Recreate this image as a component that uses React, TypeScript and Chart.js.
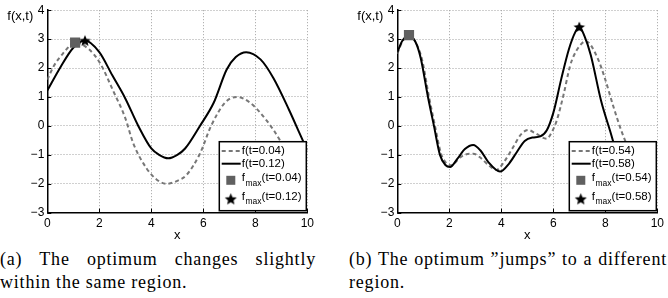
import React, { useEffect, useRef } from "react";
import { Chart, registerables } from "chart.js";

Chart.register(...registerables);

// Axis ticks shared by both panels
const xTicks = [0, 2, 4, 6, 8, 10];
const yTicks = [-3, -2, -1, 0, 1, 2, 3, 4];

// Panel (a): f(x, t=0.04) dashed, f(x, t=0.12) solid
const aDashX = [0, 0.25, 0.6, 1.07, 1.6, 2.03, 2.54, 3.0, 3.31, 3.82, 4.2, 4.59, 5.0, 5.36, 5.87, 6.3, 6.83, 7.3, 7.8, 8.44, 8.95, 9.5, 10];
const aDashY = [1.6, 2.07, 2.5, 2.88, 2.65, 2.17, 1.2, 0.27, -0.61, -1.47, -1.85, -2.0, -1.9, -1.69, -0.96, 0.0, 0.8, 1.0, 0.8, 0.18, -0.5, -1.5, -2.4];
const aSolidX = [0, 0.5, 1.0, 1.45, 2.0, 2.5, 3.0, 3.5, 4.0, 4.3, 4.65, 5.0, 5.3, 5.87, 6.4, 6.9, 7.25, 7.65, 8.2, 8.7, 9.3, 9.7, 10];
const aSolidY = [1.22, 2.02, 2.7, 2.95, 2.55, 1.75, 0.95, 0.0, -0.78, -1.0, -1.12, -1.0, -0.78, 0.0, 0.8, 1.95, 2.38, 2.55, 2.3, 1.65, 0.55, -0.25, -0.85];
const aMaxSquare = [1.07, 2.88];
const aMaxStar = [1.45, 2.95];
const aTimes = ["0.04", "0.12"];

// Panel (b): f(x, t=0.54) dashed, f(x, t=0.58) solid
const bDashX = [0, 0.2, 0.45, 0.7, 0.95, 1.22, 1.45, 1.68, 1.9, 2.09, 2.4, 2.7, 2.92, 3.2, 3.5, 3.82, 4.1, 4.46, 4.75, 5.04, 5.3, 5.74, 5.95, 6.13, 6.4, 6.64, 6.8, 7.0, 7.25, 7.7, 8.0, 8.3, 8.63, 9.0, 9.5, 10];
const bDashY = [2.5, 2.92, 3.14, 2.9, 2.3, 1.0, 0.0, -0.95, -1.3, -1.36, -1.1, -0.97, -0.96, -1.1, -1.35, -1.52, -1.25, -0.73, -0.3, -0.14, -0.25, -0.44, -0.2, 0.18, 1.1, 2.06, 2.45, 2.75, 2.93, 2.35, 1.6, 0.7, -0.2, -1.0, -1.8, -2.2];
const bSolidX = [0, 0.2, 0.45, 0.7, 0.9, 1.18, 1.41, 1.64, 1.85, 2.03, 2.3, 2.6, 2.92, 3.2, 3.5, 3.95, 4.3, 4.6, 4.9, 5.2, 5.5, 5.75, 6.0, 6.3, 6.6, 6.85, 7.0, 7.2, 7.44, 7.84, 8.18, 8.5, 9.0, 9.5, 10];
const bSolidY = [2.54, 2.95, 3.12, 2.9, 2.35, 1.0, 0.0, -1.0, -1.35, -1.42, -1.15, -0.8, -0.66, -0.85, -1.25, -1.58, -1.3, -0.9, -0.52, -0.4, -0.36, -0.15, 0.45, 1.6, 2.65, 3.25, 3.42, 3.1, 2.45, 0.86, -0.16, -1.1, -2.0, -2.5, -2.4];
const bMaxSquare = [0.45, 3.14];
const bMaxStar = [7.0, 3.42];
const bTimes = ["0.54", "0.58"];

const SANS = '"Liberation Sans", Arial, Helvetica, sans-serif';
const DASH_COLOR = "#777777";
const SQUARE_COLOR = "#606060";

const toPoints = (xs: number[], ys: number[]) => xs.map((x, i) => ({ x, y: ys[i] }));
const fmtTick = (v: number | string) => String(v).replace("-", "\u2212");

function makeStar(outer: number): HTMLCanvasElement {
  const inner = outer * 0.45;
  const size = Math.ceil(outer * 2 + 2);
  const c = document.createElement("canvas");
  c.width = size;
  c.height = size;
  const g = c.getContext("2d")!;
  g.translate(size / 2, size / 2 + outer * 0.08);
  g.beginPath();
  for (let i = 0; i < 10; i++) {
    const r = i % 2 === 0 ? outer : inner;
    const a = -Math.PI / 2 + (i * Math.PI) / 5;
    g.lineTo(r * Math.cos(a), r * Math.sin(a));
  }
  g.closePath();
  g.fillStyle = "#000";
  g.fill();
  return c;
}

type PanelProps = {
  left: number;
  axisWidth: number;
  padRight: number;
  dashX: number[];
  dashY: number[];
  solidX: number[];
  solidY: number[];
  sq: number[];
  star: number[];
  times: string[];
};

function Panel(p: PanelProps) {
  const ref = useRef<HTMLCanvasElement | null>(null);

  useEffect(() => {
    if (!ref.current) return;
    const starImg = makeStar(6);
    const legendStar = makeStar(6.3);

    const decor = {
      id: "panelDecor",
      afterDraw(chart: any) {
        const { ctx, chartArea: ca } = chart;
        const xs = chart.scales.x;
        const ys = chart.scales.y;
        ctx.save();
        // inward tick marks on the left and bottom axes
        ctx.strokeStyle = "#000";
        ctx.lineWidth = 1;
        ctx.beginPath();
        xTicks.forEach((v) => {
          const px = Math.round(xs.getPixelForValue(v)) + 0.5;
          ctx.moveTo(px, ca.bottom);
          ctx.lineTo(px, ca.bottom - 4);
        });
        yTicks.forEach((v) => {
          const py = Math.round(ys.getPixelForValue(v)) + 0.5;
          ctx.moveTo(ca.left, py);
          ctx.lineTo(ca.left + 4, py);
        });
        ctx.stroke();

        // axis titles
        ctx.fillStyle = "#000";
        ctx.font = `13px ${SANS}`;
        ctx.textBaseline = "middle";
        ctx.textAlign = "left";
        ctx.fillText("f(x,t)", ca.left - 40, 16);
        ctx.textAlign = "center";
        ctx.fillText("x", (ca.left + ca.right) / 2, 235);

        // legend box
        const w = 87;
        const h = 69;
        const lx = ca.right - 88;
        const ty = ca.bottom - 71;
        ctx.fillStyle = "#fff";
        ctx.fillRect(lx, ty, w, h);
        ctx.strokeStyle = "#000";
        ctx.lineWidth = 1.5;
        ctx.strokeRect(lx, ty, w, h);

        const tx = lx + 22.4;
        const mainFont = `11.5px ${SANS}`;
        const subFont = `8.5px ${SANS}`;
        ctx.textAlign = "left";
        ctx.textBaseline = "middle";

        // dashed entry
        ctx.strokeStyle = DASH_COLOR;
        ctx.lineWidth = 2;
        ctx.setLineDash([4, 3]);
        ctx.beginPath();
        ctx.moveTo(lx + 2.4, ty + 9.3);
        ctx.lineTo(lx + 21.4, ty + 9.3);
        ctx.stroke();
        ctx.setLineDash([]);
        ctx.fillStyle = "#000";
        ctx.font = mainFont;
        ctx.fillText(`f(t=${p.times[0]})`, tx, ty + 9.3);

        // solid entry
        ctx.strokeStyle = "#000";
        ctx.beginPath();
        ctx.moveTo(lx + 2.4, ty + 22);
        ctx.lineTo(lx + 21.4, ty + 22);
        ctx.stroke();
        ctx.fillText(`f(t=${p.times[1]})`, tx, ty + 22);

        // maximum markers
        const drawMaxText = (y: number, t: string) => {
          ctx.font = mainFont;
          ctx.fillText("f", tx, y);
          const wf = ctx.measureText("f").width + 0.6;
          ctx.font = subFont;
          ctx.fillText("max", tx + wf, y + 5.3);
          const wm = ctx.measureText("max").width;
          ctx.font = mainFont;
          ctx.fillText(`(t=${t})`, tx + wf + wm, y);
        };
        ctx.fillStyle = SQUARE_COLOR;
        ctx.fillRect(lx + 11.5 - 4.5, ty + 38.6 - 4.5, 9, 9);
        ctx.fillStyle = "#000";
        drawMaxText(ty + 36.3, p.times[0]);
        ctx.drawImage(legendStar, lx + 11.5 - legendStar.width / 2, ty + 57.3 - legendStar.height / 2);
        drawMaxText(ty + 55, p.times[1]);
        ctx.restore();
      },
    };

    const axisCommon = {
      type: "linear" as const,
      grid: { color: "#a0a0a0", lineWidth: 1, drawTicks: false },
      border: { display: true, color: "#000", width: 1.5, dash: [1, 2] },
    };

    const chart = new Chart(ref.current, {
      type: "scatter",
      data: {
        datasets: [
          {
            label: `fmax(t=${p.times[1]})`,
            data: [{ x: p.star[0], y: p.star[1] }],
            pointStyle: starImg as any,
            pointRadius: 6,
            order: 0,
          },
          {
            label: `fmax(t=${p.times[0]})`,
            data: [{ x: p.sq[0], y: p.sq[1] }],
            pointStyle: "rect",
            pointRadius: 7.2,
            backgroundColor: SQUARE_COLOR,
            borderColor: SQUARE_COLOR,
            borderWidth: 0,
            order: 1,
          },
          {
            label: `f(t=${p.times[1]})`,
            data: toPoints(p.solidX, p.solidY),
            showLine: true,
            borderColor: "#000",
            borderWidth: 2,
            pointRadius: 0,
            cubicInterpolationMode: "monotone",
            order: 2,
          },
          {
            label: `f(t=${p.times[0]})`,
            data: toPoints(p.dashX, p.dashY),
            showLine: true,
            borderColor: DASH_COLOR,
            borderWidth: 2,
            borderDash: [4, 3],
            pointRadius: 0,
            cubicInterpolationMode: "monotone",
            order: 3,
          },
        ],
      },
      options: {
        responsive: false,
        animation: false,
        events: [],
        layout: { padding: { top: 7.3, right: p.padRight, left: 0, bottom: 0 } },
        plugins: { legend: { display: false }, tooltip: { enabled: false } },
        scales: {
          x: {
            ...axisCommon,
            min: 0,
            max: 10,
            afterFit: (s: any) => {
              s.height = 27.3;
            },
            afterBuildTicks: (s: any) => {
              s.ticks = xTicks.map((v) => ({ value: v }));
            },
            ticks: { padding: 4, color: "#000", font: { family: SANS, size: 12 }, callback: fmtTick },
          },
          y: {
            ...axisCommon,
            min: -3,
            max: 4,
            afterFit: (s: any) => {
              s.width = p.axisWidth;
            },
            afterBuildTicks: (s: any) => {
              s.ticks = yTicks.map((v) => ({ value: v }));
            },
            ticks: { padding: 3, color: "#000", font: { family: SANS, size: 12 }, callback: fmtTick },
          },
        },
      } as any,
      plugins: [decor],
    });
    return () => chart.destroy();
  }, []);

  return (
    <div style={{ position: "absolute", left: p.left, top: 0, width: 334, height: 240 }}>
      <canvas ref={ref} width={334} height={240} />
    </div>
  );
}

const captionStyle: React.CSSProperties = {
  position: "absolute",
  top: 248,
  font: '18px "Liberation Serif", "Times New Roman", serif',
  lineHeight: "23px",
  letterSpacing: "0.8px",
  color: "#000",
};

export default function App() {
  return (
    <div style={{ position: "fixed", left: 0, top: 0, width: 668, height: 298, background: "#fff", overflow: "hidden" }}>
      <Panel
        left={0}
        axisWidth={47.3}
        padRight={26.7}
        dashX={aDashX}
        dashY={aDashY}
        solidX={aSolidX}
        solidY={aSolidY}
        sq={aMaxSquare}
        star={aMaxStar}
        times={aTimes}
      />
      <Panel
        left={334}
        axisWidth={63.3}
        padRight={10.7}
        dashX={bDashX}
        dashY={bDashY}
        solidX={bSolidX}
        solidY={bSolidY}
        sq={bMaxSquare}
        star={bMaxStar}
        times={bTimes}
      />
      <div style={{ ...captionStyle, left: 0, width: 316 }}>
        <div style={{ textAlign: "justify", textAlignLast: "justify", whiteSpace: "nowrap" }}>(a) The optimum changes slightly</div>
        <div>within the same region.</div>
      </div>
      <div style={{ ...captionStyle, left: 349, width: 318 }}>
        <div style={{ textAlign: "justify", textAlignLast: "justify", whiteSpace: "nowrap" }}>
          (b) The optimum {"\u201D"}jumps{"\u201D"} to a different
        </div>
        <div>region.</div>
      </div>
    </div>
  );
}
